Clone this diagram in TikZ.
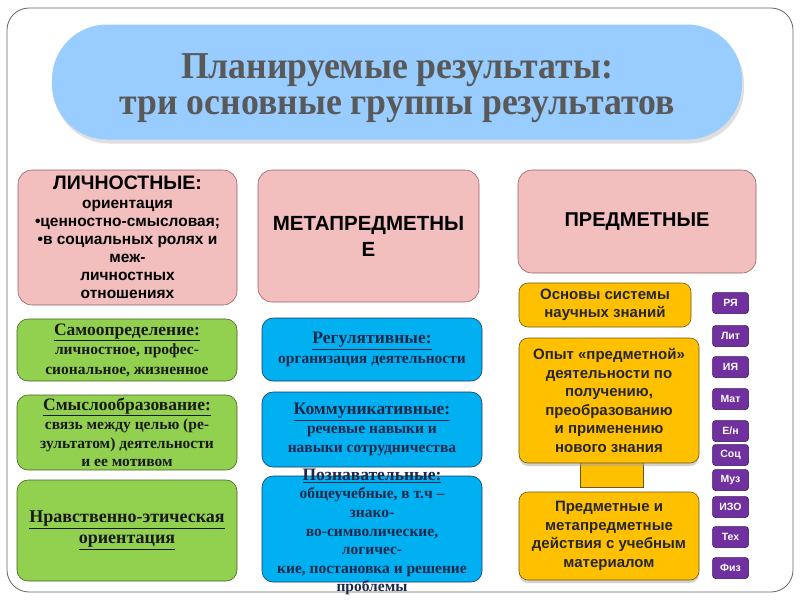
\documentclass[tikz,border=0pt]{standalone}
\usepackage{fontspec}
\setmainfont{Liberation Serif}
\setsansfont{Liberation Sans}
\newfontfamily\titlefont{Liberation Serif}[FakeStretch=0.94]
\usepackage{xcolor}
\definecolor{pillblue}{RGB}{153,204,255}
\definecolor{titlegrey}{RGB}{89,89,89}
\definecolor{headpink}{RGB}{242,190,190}
\definecolor{pinkedge}{RGB}{150,95,95}
\definecolor{lichgreen}{RGB}{146,208,80}
\definecolor{greenedge}{RGB}{70,100,35}
\definecolor{metablue}{RGB}{0,176,240}
\definecolor{blueedge}{RGB}{25,55,95}
\definecolor{bluetext}{RGB}{25,40,75}
\definecolor{predyellow}{RGB}{255,192,0}
\definecolor{yellowedge}{RGB}{110,85,20}
\definecolor{subjpurple}{RGB}{112,48,160}
\definecolor{purpleedge}{RGB}{55,20,85}
\usetikzlibrary{shadows}

\begin{document}
\begin{tikzpicture}[x=1pt, y=-1pt,
        frame/.style={draw=black!60, line width=0.8pt, rounded corners=22pt},
        pill/.style={fill=pillblue, rounded corners=55pt, drop shadow={shadow xshift=2pt, shadow yshift=-4pt, fill=black!25}},
        headbox/.style={draw=pinkedge, fill=headpink, rounded corners=14pt, line width=0.6pt, inner sep=1pt, font=\sffamily\bfseries, align=center},
        greenbox/.style={draw=greenedge, fill=lichgreen, rounded corners=11pt, line width=0.6pt, inner sep=0pt, text=black!90, align=center},
        bluebox/.style={draw=blueedge, fill=metablue, rounded corners=11pt, line width=0.6pt, inner sep=0pt, text=bluetext, align=center},
        yellowbox/.style={draw=yellowedge, fill=predyellow, rounded corners=9pt, line width=0.6pt, inner sep=1pt, font=\sffamily\bfseries\fontsize{15}{18.5}\selectfont, text=black!85, align=center},
        subj/.style={draw=purpleedge, fill=subjpurple, rounded corners=3pt, line width=0.5pt, minimum width=36pt, minimum height=21pt, inner sep=0pt, font=\sffamily\bfseries\fontsize{10.5}{11}\selectfont, text=white}]

    \useasboundingbox (0,0) rectangle (800,600);
    \draw [frame] (7,8) rectangle (793,592);

    % title
    \node [pill, minimum width=690pt, minimum height=115pt] (title) at (397,82) {};
    \node [font=\titlefont\bfseries\fontsize{38}{36}\selectfont, text=titlegrey, align=center] (titletext) at (397,88)
        {Планируемые результаты:\\три основные группы результатов};

    % three groups
    \node [headbox, minimum width=219pt, minimum height=135pt, font=\sffamily\bfseries\fontsize{15.5}{18}\selectfont] (lich) at (127.5,237.5)
        {{\fontsize{19.5}{21}\selectfont ЛИЧНОСТНЫЕ:}\\[1pt]ориентация\\•ценностно-смысловая;\\•в социальных ролях и\\меж-\\личностных\\отношениях};
    \node [headbox, minimum width=221pt, minimum height=132pt, font=\sffamily\bfseries\fontsize{20.5}{26}\selectfont] (meta) at (368.5,236)
        {МЕТАПРЕДМЕТНЫ\\Е};
    \node [headbox, minimum width=238pt, minimum height=103pt, font=\sffamily\bfseries\fontsize{20}{22}\selectfont] (pred) at (637,221.5)
        {ПРЕДМЕТНЫЕ};

    % личностные
    \node [greenbox, minimum width=220pt, minimum height=62pt, font=\bfseries\fontsize{15.5}{19.5}\selectfont] (samo) at (127,350)
        {{\fontsize{17.5}{19}\selectfont\underline{Самоопределение:}}\\личностное, профес-\\сиональное, жизненное};
    \node [greenbox, minimum width=220pt, minimum height=75pt, font=\bfseries\fontsize{15.5}{18.8}\selectfont] (smysl) at (127,432.5)
        {{\fontsize{17.5}{19}\selectfont\underline{Смыслообразование:}}\\связь между целью (ре-\\зультатом) деятельности\\и ее мотивом};
    \node [greenbox, minimum width=220pt, minimum height=101pt, font=\bfseries\fontsize{18}{21}\selectfont] (nrav) at (127,530.5)
        {\underline{Нравственно-этическая}\\\underline{ориентация}};

    % метапредметные
    \node [bluebox, minimum width=220pt, minimum height=63pt, font=\bfseries\fontsize{15.5}{20}\selectfont] (regul) at (372,349.5)
        {{\fontsize{17.5}{19}\selectfont\underline{Регулятивные:}}\\организация деятельности};
    \node [bluebox, minimum width=220pt, minimum height=75pt, font=\bfseries\fontsize{15.5}{19}\selectfont] (komm) at (372,429.5)
        {{\fontsize{17.5}{19}\selectfont\underline{Коммуникативные:}}\\речевые навыки и\\навыки сотрудничества};
    \node [bluebox, minimum width=220pt, minimum height=106pt] (pozn) at (372,529) {};
    \node [font=\bfseries\fontsize{15.5}{18.6}\selectfont, text=bluetext, align=center, inner sep=0pt] (pozntext) at (372,532)
        {{\fontsize{17.5}{19}\selectfont\underline{Познавательные:}}\\общеучебные, в т.ч –\\знако-\\во-символические,\\логичес-\\кие, постановка и решение\\проблемы};

    % предметные
    \node [yellowbox, minimum width=172pt, minimum height=44pt] (osnovy) at (605,305)
        {Основы системы\\научных знаний};
    \draw [draw=yellowedge, fill=predyellow, line width=0.5pt] (580,462) rectangle (643,487);
    \node [yellowbox, minimum width=180pt, minimum height=125pt, drop shadow={shadow xshift=0pt, shadow yshift=-3pt, fill=black!35}] (opyt) at (609,400.5)
        {Опыт «предметной»\\деятельности по\\получению,\\преобразованию\\и применению\\нового знания};
    \node [yellowbox, minimum width=180pt, minimum height=88pt, drop shadow={shadow xshift=0pt, shadow yshift=-3pt, fill=black!35}] (dejst) at (609,536)
        {Предметные и\\метапредметные\\действия с учебным\\материалом};

    % предметы
    \node [subj] (rya) at (730.5,303) {РЯ};
    \node [subj] (lit) at (730.5,336) {Лит};
    \node [subj] (iya) at (730.5,367) {ИЯ};
    \node [subj] (mat) at (730.5,399) {Мат};
    \node [subj] (en) at (730.5,431) {Е/н};
    \node [subj] (soc) at (730.5,455) {Соц};
    \node [subj] (muz) at (730.5,480) {Муз};
    \node [subj] (izo) at (730.5,507) {ИЗО};
    \node [subj] (teh) at (730.5,537) {Тех};
    \node [subj] (fiz) at (730.5,568) {Физ};
\end{tikzpicture}
\end{document}
